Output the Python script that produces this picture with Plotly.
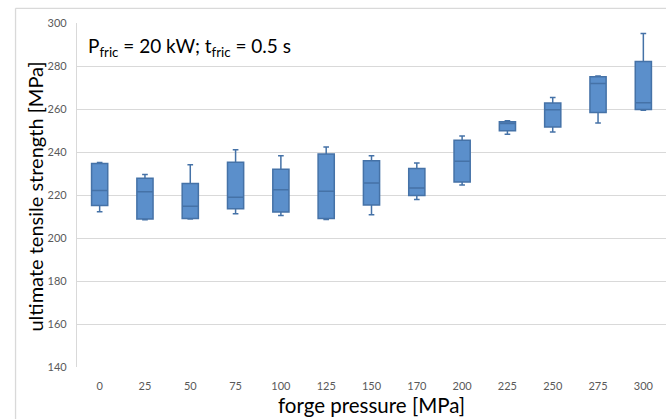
import plotly.graph_objects as go

categories = ["0", "25", "50", "75", "100", "125", "150", "170", "200", "225", "250", "275", "300"]
minimum = [212.2, 208.5, 208.8, 211.3, 210.5, 208.6, 210.8, 217.9, 224.6, 248.2, 249.3, 253.5, 259.4]
q1 = [215.1, 208.8, 209.1, 213.6, 212.1, 209.1, 215.3, 219.8, 226.0, 249.9, 251.6, 258.4, 259.8]
median = [222.1, 221.5, 214.8, 219.0, 222.4, 221.8, 225.6, 223.3, 235.7, 253.2, 259.6, 271.9, 262.9]
q3 = [234.6, 227.8, 225.3, 235.2, 232.0, 239.1, 235.9, 232.3, 245.5, 254.1, 262.8, 275.0, 282.1]
maximum = [235.1, 229.5, 234.1, 241.0, 238.2, 242.3, 238.2, 234.9, 247.4, 254.5, 265.4, 275.4, 295.1]

W, H = 666, 419
L, R, T, B = 76.5, 0, 22.7, 51.7
pw = W - L - R
ph = H - T - B

def px_x(x):
    return (x - L) / pw

def px_y(y):
    return 1 - (y - T) / ph

fig = go.Figure()
fig.add_trace(go.Box(
    x=categories,
    q1=q1, median=median, q3=q3,
    lowerfence=minimum, upperfence=maximum,
    fillcolor="#5b8fcb",
    line=dict(color="#4572a7", width=1.5),
    whiskerwidth=0.35,
    boxpoints=False,
    hoverinfo="skip",
    showlegend=False,
))

font_family = "Lato, 'Open Sans', sans-serif"

fig.update_layout(
    width=W, height=H,
    margin=dict(l=L, r=R, t=T, b=B, pad=0),
    paper_bgcolor="white",
    plot_bgcolor="white",
    boxgap=0.49,
    font=dict(family=font_family, color="#595959", size=11),
    xaxis=dict(
        type="category",
        categoryorder="array",
        categoryarray=categories,
        showgrid=False,
        showline=False,
        zeroline=False,
        ticks="",
        ticklabelstandoff=11,
        tickfont=dict(size=11, color="#595959"),
    ),
    yaxis=dict(
        range=[140, 300],
        dtick=20,
        tick0=140,
        showgrid=True,
        gridcolor="#d9d9d9",
        gridwidth=1.3,
        showline=True,
        linecolor="#d9d9d9",
        linewidth=1.3,
        zeroline=False,
        ticks="",
        ticklabelstandoff=7,
        tickfont=dict(size=11, color="#595959"),
    ),
    shapes=[
        dict(type="line", xref="paper", yref="paper",
             x0=px_x(15), x1=px_x(700), y0=px_y(8), y1=px_y(8),
             line=dict(color="#d9d9d9", width=1.3)),
        dict(type="line", xref="paper", yref="paper",
             x0=px_x(15), x1=px_x(15), y0=px_y(8), y1=px_y(450),
             line=dict(color="#d9d9d9", width=1.3)),
    ],
    annotations=[
        dict(text="P<sub>fric</sub> = 20 kW; t<sub>fric</sub> = 0.5 s",
             xref="paper", yref="paper", x=px_x(86), y=px_y(47),
             xanchor="left", yanchor="middle", showarrow=False,
             font=dict(size=19, color="#000000", family=font_family)),
        dict(text="forge pressure [MPa]",
             xref="paper", yref="paper", x=px_x(371), y=px_y(405),
             xanchor="center", yanchor="middle", showarrow=False,
             font=dict(size=20.5, color="#000000", family=font_family)),
        dict(text="ultimate tensile strength [MPa]",
             xref="paper", yref="paper", x=px_x(34), y=px_y(197),
             xanchor="center", yanchor="middle", showarrow=False, textangle=-90,
             font=dict(size=20, color="#000000", family=font_family)),
    ],
)

fig.write_html("out.html")
